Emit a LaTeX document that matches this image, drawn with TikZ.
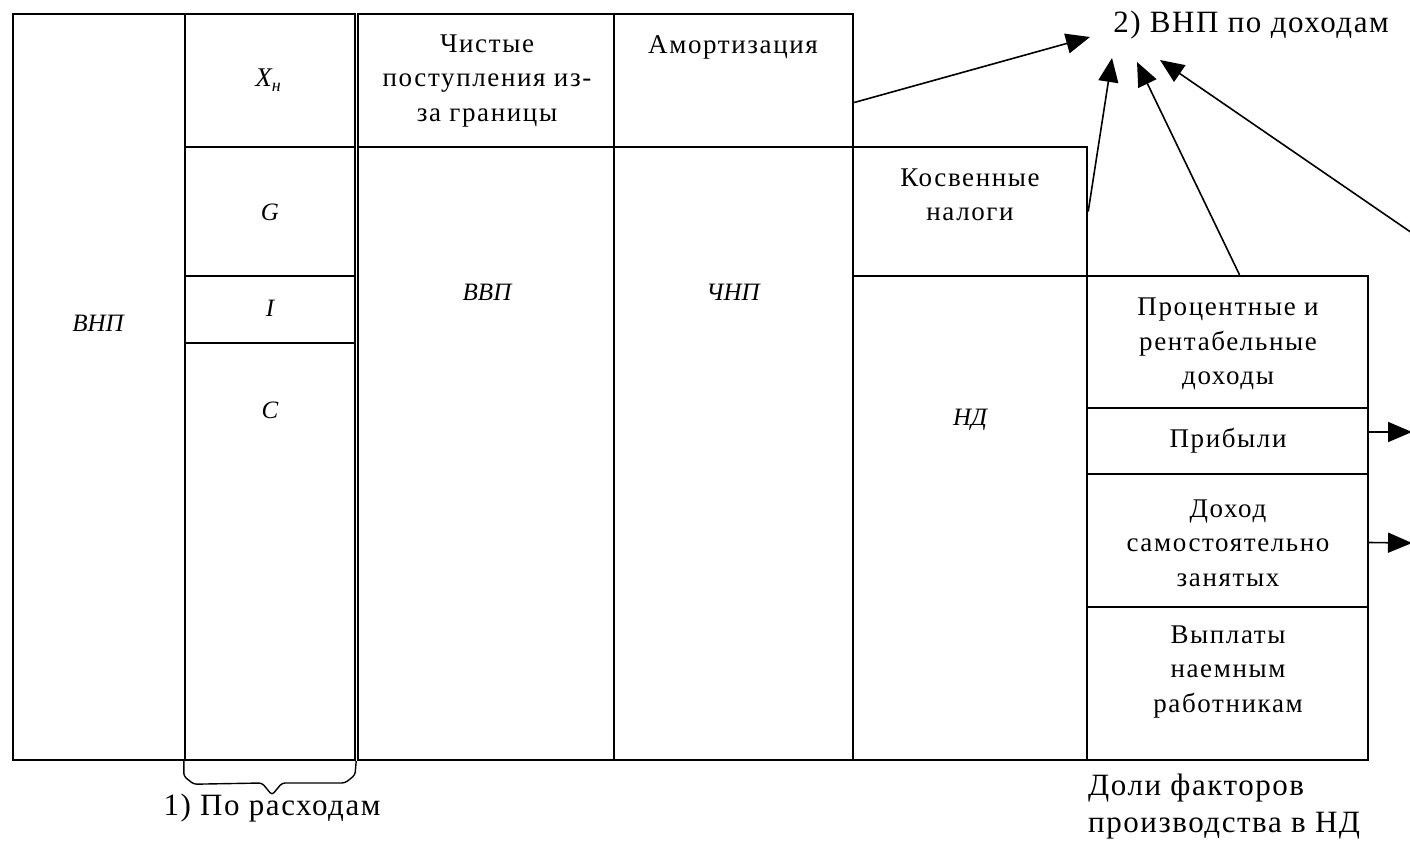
\documentclass[tikz,border=0pt]{standalone}
\usepackage{fontspec}
\setmainfont{Liberation Serif}
\usetikzlibrary{arrows.meta,fit}
\begin{document}
\begin{tikzpicture}[x=1pt,y=-1pt,
  cell/.style={draw, line width=2.4pt, inner sep=0pt},
  txt/.style={font=\fontsize{27}{34.5}\selectfont\addfontfeature{LetterSpace=6}, align=center, inner sep=0pt},
  itl/.style={font=\fontsize{25}{34}\selectfont\itshape, inner sep=0pt},
  lbl/.style={font=\fontsize{31}{37}\selectfont\addfontfeature{LetterSpace=5}, inner sep=0pt},
  arr/.style={line width=1.6pt, -{Triangle[length=24pt,width=20pt]}}]
\useasboundingbox (0,0) rectangle (1410,851);
% boxes
\node[cell, fit={(13,14) (185,760)}] (vnp) {};
\node[cell, fit={(185,14) (355,147)}] (xn) {};
\node[cell, fit={(185,147) (355,276)}] (g) {};
\node[cell, fit={(185,276) (355,343)}] (i) {};
\node[cell, fit={(185,343) (355,760)}] (c) {};
\node[cell, fit={(358,14) (614,147)}] (chist) {};
\node[cell, fit={(358,147) (614,760)}] (vvp) {};
\node[cell, fit={(614,14) (853,147)}] (amort) {};
\node[cell, fit={(614,147) (853,760)}] (chnp) {};
\node[cell, fit={(853,147) (1087,276)}] (kosv) {};
\node[cell, fit={(853,276) (1087,760)}] (nd) {};
\node[cell, fit={(1087,276) (1368,408)}] (proc) {};
\node[cell, fit={(1087,408) (1368,474)}] (prib) {};
\node[cell, fit={(1087,474) (1368,607)}] (dohod) {};
\node[cell, fit={(1087,607) (1368,760)}] (vypl) {};
% texts
\node[itl] (tvnp) at (98,323) {ВНП};
\node[itl] (txn) at (268,80) {\fontsize{27}{30}\selectfont X\raisebox{-5pt}{\fontsize{18}{18}\selectfont н}};
\node[itl] (tg) at (270,212) {G};
\node[itl] (ti) at (270,308) {I};
\node[itl] (tc) at (270,410) {C};
\node[txt] (tchist) at (487,81) {Чистые\\поступления из-\\за границы};
\node[itl] (tvvp) at (487,292) {ВВП};
\node[txt] (tamort) at (733,47) {Амортизация};
\node[itl] (tchnp) at (733,292) {ЧНП};
\node[txt] (tkosv) at (970,195) {Косвенные\\налоги};
\node[itl] (tnd) at (970,420) {НД};
\node[txt] (tproc) at (1228,344) {Процентные и\\рентабельные\\доходы};
\node[txt] (tprib) at (1228,441) {Прибыли};
\node[txt] (tdoh) at (1228,543) {Доход\\самостоятельно\\занятых};
\node[txt] (tvypl) at (1228,672) {Выплаты\\наемным\\работникам};
\node[lbl] (l2) at (1251,25) {2) ВНП по доходам};
\node[lbl] (l1) at (272,808) {1) По расходам};
\node[lbl, align=left, anchor=north west] (l3) at (1088,774) {Доли факторов\\производства в НД};
% brace
\draw[line width=1.4pt, rounded corners=3pt] (c.south west) -- ++(0,15) -- ++(10,8) -- (262,783) -- (272,795) -- (282,783) -- (345,783) -- (355,775) -- (c.south east);
% arrows
\coordinate (h1) at (1090,37);
\coordinate (h2) at (1112,58);
\coordinate (h3) at (1137,62);
\coordinate (h4) at (1160,60);
\coordinate (s4) at (1412,233);
\coordinate (e5) at (1412,432);
\coordinate (e6) at (1412,543);
\draw[arr] ([yshift=-22pt]amort.east) -- (h1);
\draw[arr] (kosv.east) -- (h2);
\draw[arr] ([xshift=12pt]proc.north) -- (h3);
\draw[arr] (s4) -- (h4);
\draw[arr] ([yshift=9pt]prib.east) -- (e5);
\draw[arr] ([yshift=-2pt]dohod.east) -- (e6);
\end{tikzpicture}
\end{document}
